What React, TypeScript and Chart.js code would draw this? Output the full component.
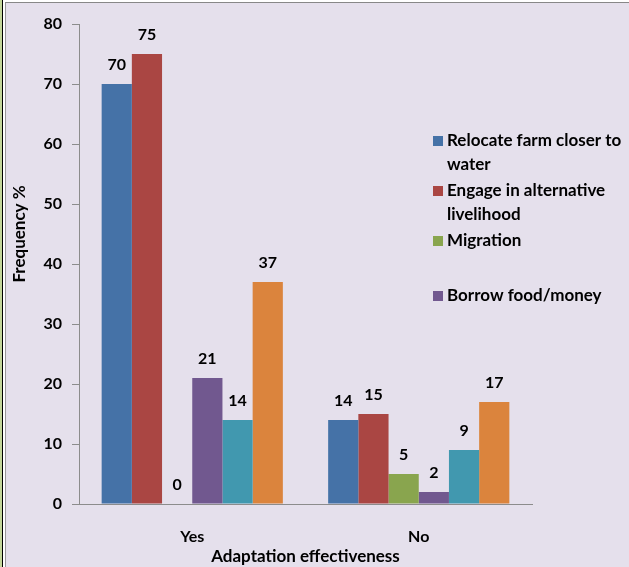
import React, { useEffect, useRef } from "react";
import { Chart, registerables } from "chart.js";

Chart.register(...registerables);

const categories = ["Yes", "No"];
const seriesNames = [
  "Relocate farm closer to water",
  "Engage in alternative livelihood",
  "Migration",
  "Borrow food/money",
  "Series 5",
  "Series 6",
];
const relocate = [70, 14];
const engage = [75, 15];
const migration = [0, 5];
const borrow = [21, 2];
const series5 = [14, 9];
const series6 = [37, 17];
const seriesColors = ["#4572A7", "#AA4643", "#89A54E", "#71588F", "#4198AF", "#DB843D"];
const legendLines = [
  ["Relocate farm closer to", "water"],
  ["Engage in alternative", "livelihood"],
  ["Migration", ""],
  ["Borrow food/money"],
];
const yTicks = [0, 10, 20, 30, 40, 50, 60, 70, 80];
const yTitle = "Frequency %";
const xTitle = "Adaptation effectiveness";

const FONT = "Lato, 'Open Sans', sans-serif";

const labelPlugin = {
  id: "barLabels",
  afterDatasetsDraw(chart: any) {
    const ctx = chart.ctx;
    ctx.save();
    ctx.font = `bold 16px ${FONT}`;
    ctx.fillStyle = "#000";
    ctx.textAlign = "center";
    ctx.textBaseline = "alphabetic";
    chart.data.datasets.forEach((ds: any, i: number) => {
      const meta = chart.getDatasetMeta(i);
      meta.data.forEach((el: any, j: number) => {
        ctx.fillText(String(ds.data[j]), el.x, el.y - 14);
      });
    });
    ctx.restore();
  },
};

const legendPlugin = {
  id: "customLegend",
  afterDraw(chart: any) {
    const ctx = chart.ctx;
    const x0 = chart.chartArea.right - 99;
    const yCenters = [138, 188, 238, 293];
    ctx.save();
    ctx.font = `bold 17px ${FONT}`;
    ctx.textBaseline = "middle";
    ctx.textAlign = "left";
    legendLines.forEach((lines, i) => {
      const yc = yCenters[i];
      ctx.fillStyle = seriesColors[i];
      ctx.fillRect(x0, yc - 5, 10, 10);
      ctx.fillStyle = "#000";
      lines.forEach((t, k) => {
        if (t) ctx.fillText(t, x0 + 14, yc + k * 24);
      });
    });
    // y axis title
    ctx.translate(14, 231);
    ctx.rotate(-Math.PI / 2);
    ctx.textAlign = "center";
    ctx.font = `bold 17px ${FONT}`;
    ctx.fillText(yTitle, 0, 0);
    ctx.restore();
  },
};

export default function App() {
  const ref = useRef<HTMLCanvasElement>(null);
  useEffect(() => {
    const all = [relocate, engage, migration, borrow, series5, series6];
    const chart = new Chart(ref.current!, {
      type: "bar",
      data: {
        labels: categories,
        datasets: all.map((d, i) => ({
          label: seriesNames[i],
          data: d,
          backgroundColor: seriesColors[i],
          borderWidth: 0,
          categoryPercentage: 0.8,
          barPercentage: 1.0,
        })),
      },
      options: {
        responsive: false,
        animation: false,
        devicePixelRatio: 1,
        layout: { padding: { left: 0, right: 97, top: 21, bottom: 0 } },
        plugins: { legend: { display: false }, tooltip: { enabled: false } },
        scales: {
          x: {
            grid: { display: false, drawTicks: false },
            border: { display: true, color: "#8c8c8c", width: 1 },
            ticks: { padding: 23, color: "#000", font: { family: FONT, size: 16, weight: "bold" } },
            title: {
              display: true,
              text: xTitle,
              color: "#000",
              padding: { top: 0, bottom: 0 },
              font: { family: FONT, size: 17, weight: "bold" },
            },
            afterFit: (s: any) => {
              s.height = 63;
            },
          },
          y: {
            min: 0,
            max: 80,
            afterBuildTicks: (s: any) => {
              s.ticks = yTicks.map((v) => ({ value: v }));
            },
            grid: { drawOnChartArea: false, drawTicks: true, tickLength: 7, color: "#8c8c8c" },
            border: { display: true, color: "#8c8c8c", width: 1 },
            ticks: { padding: 10, color: "#000", font: { family: FONT, size: 16, weight: "bold" } },
            afterFit: (s: any) => {
              s.width = 73;
            },
          },
        },
      },
      plugins: [labelPlugin, legendPlugin],
    });
    return () => chart.destroy();
  }, []);

  return (
    <div style={{ position: "fixed", left: 0, top: 0, width: 629, height: 567, background: "#fff", overflow: "hidden" }}>
      <div style={{ position: "absolute", left: 0, top: 0, width: 2, height: 567, background: "#C4D79B", borderRight: "1px solid #000" }} />
      <div
        style={{
          position: "absolute",
          left: 5,
          top: 2,
          width: 623,
          height: 564,
          background: "#E5E0EC",
          borderTop: "1px solid #888",
          borderLeft: "1px solid #999",
        }}
      >
        <canvas ref={ref} width={623} height={564} style={{ display: "block" }} />
      </div>
    </div>
  );
}
